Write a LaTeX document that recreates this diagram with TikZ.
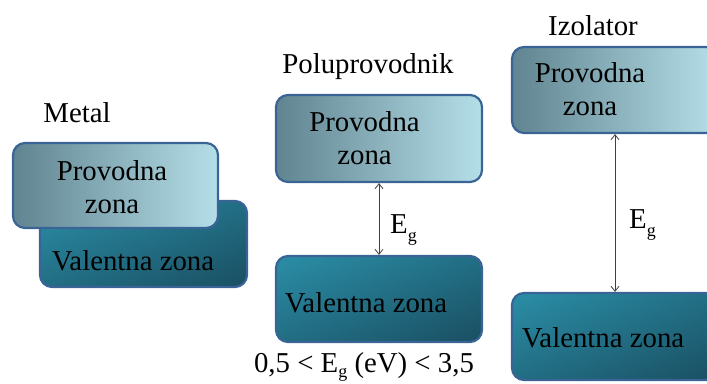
\documentclass[tikz,border=0pt]{standalone}
\usepackage{fontspec}
\setmainfont{Liberation Serif}
\usetikzlibrary{arrows.meta,calc,shadings}
\definecolor{provL}{HTML}{608490}
\definecolor{provR}{HTML}{B5DFE8}
\definecolor{valTL}{HTML}{2A8EA6}
\definecolor{valBR}{HTML}{1A4F62}
\definecolor{valTR}{HTML}{226E84}
\definecolor{bordc}{HTML}{3A6496}
\definecolor{arrc}{HTML}{404040}
\newcommand{\Egap}[1][0.28em]{E\raisebox{-#1}{\fontsize{18}{18}\selectfont g}}
\tikzset{
  zone/.style={rectangle, rounded corners=12pt, draw=bordc, line width=2.2pt, inner sep=0pt},
  provbox/.style={zone, left color=provL, right color=provR},
  valbox/.style={zone, upper left=valTL, lower right=valBR, upper right=valTR, lower left=valTR},
  txt/.style={font=\fontsize{28.8}{33}\selectfont, inner sep=0pt, text=black},
  gaparrow/.style={draw=arrc, line width=0.8pt, {Straight Barb[length=5pt,width=8pt]}-{Straight Barb[length=5pt,width=8pt]}}
}
\begin{document}
\begin{tikzpicture}[x=1pt,y=-1pt]
\useasboundingbox (0,0) rectangle (707,383);
% Metal
\node[valbox, minimum width=207pt, minimum height=86pt] (mv) at (143.5,244) {};
\node[provbox, minimum width=205pt, minimum height=85pt] (mp) at (115.5,185.5) {};
\node[txt, anchor=base] (mt) at (77,122) {Metal};
\node[txt, align=center] (mpt) at (112,187) {Provodna\\zona};
\node[txt, anchor=base] (mvt) at (133,270) {Valentna zona};
% Poluprovodnik
\node[provbox, minimum width=206pt, minimum height=87pt] (pp) at (379,138.5) {};
\node[valbox, minimum width=206pt, minimum height=86pt] (pv) at (379,299) {};
\node[txt, anchor=base] (pt) at (368,73) {Poluprovodnik};
\node[txt, align=center] (ppt) at (364.5,138) {Provodna\\zona};
\node[txt, anchor=base] (pvt) at (366,312) {Valentna zona};
\draw[gaparrow] (pp.south) -- (pv.north);
\node[txt, anchor=base west] (pe) at (390,233) {\Egap};
\node[txt, anchor=base] (pb) at (364,372) {0,5 < \Egap[0.18em]{} (eV) < 3,5};
% Izolator
\node[provbox, minimum width=206pt, minimum height=86pt] (ip) at (615,90) {};
\node[valbox, minimum width=206pt, minimum height=87pt] (iv) at (615,336.5) {};
\node[txt, anchor=base] (it) at (593,35) {Izolator};
\node[txt, align=center] (ipt) at (590,89.5) {Provodna\\zona};
\node[txt, anchor=base] (ivt) at (603,347) {Valentna zona};
\draw[gaparrow] (ip.south) -- (iv.north);
\node[txt, anchor=base west] (ie) at (629,228) {\Egap};
\end{tikzpicture}
\end{document}
